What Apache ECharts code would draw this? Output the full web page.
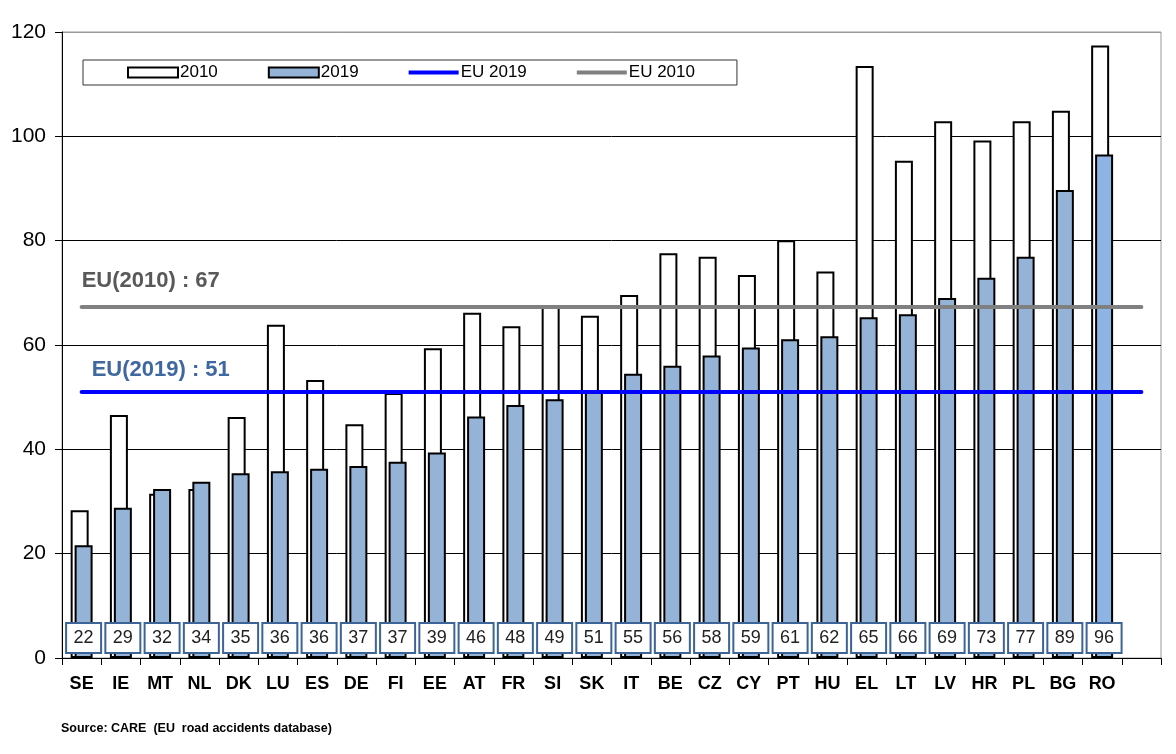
<!DOCTYPE html>
<html>
<head>
<meta charset="utf-8">
<script src="https://cdn.jsdelivr.net/npm/echarts@6/dist/echarts.min.js"></script>
<style>
  html, body { margin: 0; padding: 0; background: #fff; }
  #chart { width: 1176px; height: 754px; }
</style>
</head>
<body>
<div id="chart"></div>
<script>
// countries, last slot is empty like the original sheet
const countries = ['SE', 'IE', 'MT', 'NL', 'DK', 'LU', 'ES', 'DE', 'FI', 'EE', 'AT', 'FR', 'SI', 'SK',
    'IT', 'BE', 'CZ', 'CY', 'PT', 'HU', 'EL', 'LT', 'LV', 'HR', 'PL', 'BG', 'RO', '']

// fatalities per million inhabitants
const values2010 = [28.3, 46.6, 31.5, 32.4, 46.2, 63.9, 53.3, 44.8, 50.8, 59.4, 66.2, 63.6, 67.3, 65.6,
    69.6, 77.6, 76.9, 73.4, 80.1, 74.1, 113.5, 95.3, 102.9, 99.2, 102.9, 104.9, 117.4, null]
const values2019 = [21.6, 28.8, 32.4, 33.8, 35.4, 35.8, 36.3, 36.8, 37.6, 39.4, 46.3, 48.5, 49.6, 51,
    54.5, 56, 58, 59.5, 61.1, 61.7, 65.3, 65.9, 69, 72.9, 76.9, 89.7, 96.5, null]
// figures printed in the boxes at the bottom
const labels2019 = [22, 29, 32, 34, 35, 36, 36, 37, 37, 39, 46, 48, 49, 51,
    55, 56, 58, 59, 61, 62, 65, 66, 69, 73, 77, 89, 96, null]

const eu2010 = 67.4
const eu2019 = 51

const yTicks = { min: 0, max: 120, interval: 20 }

// thick line icon for the legend (transparent padding top and bottom)
const lineIcon = 'path://M0,0L0,0M0,3L50,3L50,7L0,7ZM0,10L0,10'

const chart = echarts.init(document.getElementById('chart'))

const euLine = (name, value, color, labelColor, dist) => ({
    name: name,
    type: 'line',
    data: [],
    symbol: 'none',
    itemStyle: { color: color },
    lineStyle: { color: color, width: 4 },
    markLine: {
        silent: true,
        symbol: ['none', 'none'],
        lineStyle: { color: color, width: 4, type: 'solid', cap: 'round' },
        label: {
            show: true,
            position: 'insideStartTop',
            distance: dist,
            formatter: name.replace(' ', '(') + ') : ' + Math.round(value),
            color: labelColor,
            fontFamily: 'Liberation Sans, Arial, sans-serif',
            fontWeight: 'bold',
            fontSize: 22
        },
        data: [[
            { xAxis: countries[0], yAxis: value },
            { xAxis: countries[countries.length - 1], yAxis: value }
        ]]
    },
    z: 5
})

chart.setOption({
    animation: false,
    textStyle: { fontFamily: 'Liberation Sans, Arial, sans-serif' },
    title: {
        text: 'Source: CARE  (EU  road accidents database)',
        left: 61,
        top: 722,
        padding: 0,
        textStyle: { fontSize: 12.5, fontWeight: 'bold', color: '#000' }
    },
    legend: {
        left: 83,
        top: 60,
        padding: [4, 42, 4, 44],
        itemGap: 50,
        itemWidth: 50,
        itemHeight: 10,
        borderColor: '#333',
        borderWidth: 1,
        textStyle: { fontSize: 17, color: '#000', padding: [0, 0, 0, -3] },
        data: [
            { name: '2010', icon: 'rect' },
            { name: '2019', icon: 'rect' },
            { name: 'EU 2019', icon: lineIcon, itemStyle: { color: '#0000FF', borderWidth: 0 } },
            { name: 'EU 2010', icon: lineIcon, itemStyle: { color: '#808080', borderWidth: 0 } }
        ]
    },
    grid: {
        left: 62,
        right: 15,
        top: 32,
        bottom: 96,
        show: true,
        borderColor: '#999',
        borderWidth: 1
    },
    xAxis: {
        type: 'category',
        data: countries,
        axisLine: { lineStyle: { color: '#000', width: 1 } },
        axisTick: { show: true, length: 7, interval: 0, lineStyle: { color: '#000' } },
        axisLabel: {
            interval: 0,
            margin: 17,
            color: '#000',
            fontWeight: 'bold',
            fontSize: 18
        },
        splitLine: { show: false }
    },
    yAxis: {
        type: 'value',
        min: yTicks.min,
        max: yTicks.max,
        interval: yTicks.interval,
        axisLine: { show: true, lineStyle: { color: '#000', width: 1 } },
        axisTick: { show: true, length: 7, inside: false, lineStyle: { color: '#000' } },
        axisLabel: { margin: 16, color: '#000', fontSize: 21 },
        splitLine: {
            show: true,
            lineStyle: { color: ['#000', '#000', '#000', '#000', '#000', '#000', '#999'], width: 1 }
        }
    },
    series: [
        {
            name: '2010',
            type: 'bar',
            data: values2010,
            barWidth: 18,
            barGap: '-78%',
            itemStyle: { color: '#fff', borderColor: '#000', borderWidth: 2 }
        },
        {
            name: '2019',
            type: 'bar',
            data: values2019.map((v, i) => i === 26 ? { value: v, itemStyle: { color: '#8DB4E2' } } : v),
            barWidth: 18,
            itemStyle: { color: '#95B3D7', borderColor: '#000', borderWidth: 2 },
            label: {
                show: true,
                position: 'insideBottom',
                distance: 6,
                formatter: p => labels2019[p.dataIndex],
                width: 33,
                height: 28,
                lineHeight: 28,
                align: 'center',
                backgroundColor: '#fff',
                borderColor: '#3C6497',
                borderWidth: 2,
                color: '#222',
                fontSize: 18
            }
        },
        euLine('EU 2019', eu2019, '#0000FF', '#3F68A0', [10, 11]),
        euLine('EU 2010', eu2010, '#808080', '#595959', [0, 14])
    ]
})
</script>
</body>
</html>
